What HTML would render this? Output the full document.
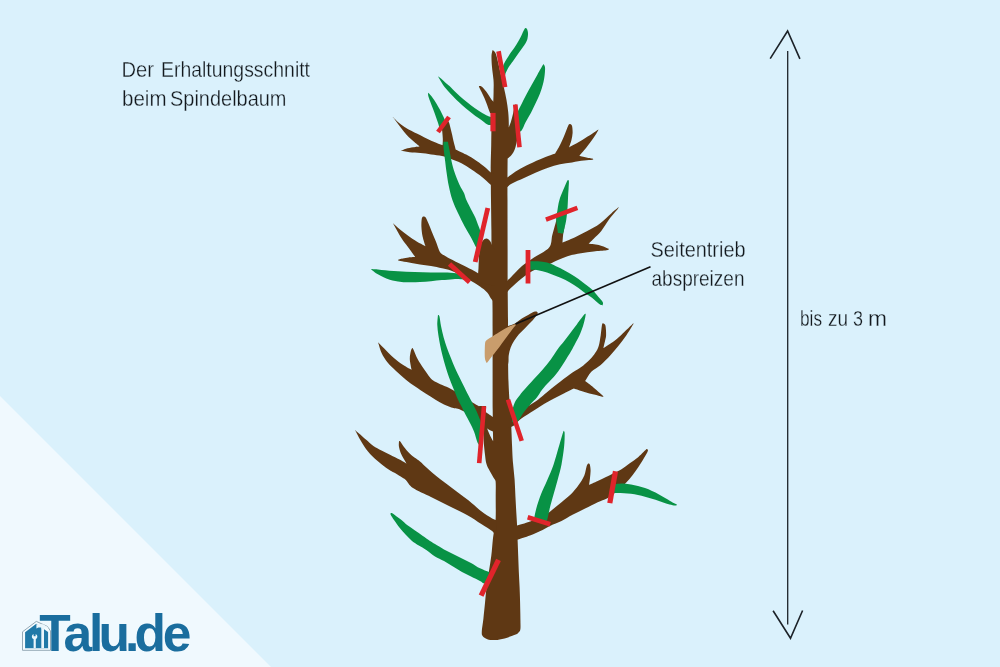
<!DOCTYPE html>
<html><head><meta charset="utf-8">
<style>
html,body{margin:0;padding:0;}
body{width:1000px;height:667px;overflow:hidden;background:#daf1fc;position:relative;font-family:"Liberation Sans",sans-serif;}
svg{position:absolute;left:0;top:0;}
</style></head>
<body>
<svg width="1000" height="667" viewBox="0 0 1000 667">
<rect width="1000" height="667" fill="#daf1fc"/>
<polygon points="0,396 271,667 0,667" fill="#f0f9fe"/>

<g stroke="#1c2228" fill="none">
<line x1="787.7" y1="51" x2="787.7" y2="624.5" stroke-width="1.3"/>
<polyline points="770.2,58.6 787.6,31 799.9,58.9" stroke-width="1.6"/>
<polyline points="773.1,610.7 790.5,638.3 802.6,610.5" stroke-width="1.6"/>
</g>
<path fill="#5f3814" d="M492.6,49.9 C492.6,49.9 494.6,51.0 495.5,53.0 C496.4,55.0 497.1,58.3 498.0,62.0 C498.9,65.7 500.0,70.7 501.0,75.0 C502.0,79.3 503.1,83.8 504.0,88.0 C504.9,92.2 505.8,96.0 506.5,100.0 C507.2,104.0 507.8,108.0 508.2,112.0 C508.6,116.0 508.8,119.3 508.8,124.0 C508.8,128.7 508.5,134.0 508.3,140.0 C508.1,146.0 507.7,150.0 507.6,160.0 C507.5,170.0 507.5,185.0 507.5,200.0 C507.5,215.0 507.6,235.0 507.6,250.0 C507.6,265.0 507.6,278.3 507.7,290.0 C507.8,301.7 507.9,310.0 508.0,320.0 C508.1,330.0 507.9,339.7 508.0,350.0 C508.1,360.3 508.2,373.7 508.5,382.0 C508.8,390.3 509.1,393.7 509.5,400.0 C509.9,406.3 510.6,412.2 511.0,420.0 C511.4,427.8 511.8,439.3 512.1,446.5 C512.4,453.7 512.6,457.5 513.0,463.0 C513.4,468.5 514.2,473.9 514.6,479.4 C515.0,484.9 515.1,490.4 515.4,495.9 C515.7,501.4 516.0,507.4 516.3,512.4 C516.6,517.4 516.9,521.0 517.1,525.6 C517.3,530.2 517.4,535.0 517.6,540.0 C517.8,545.0 518.0,550.5 518.2,555.7 C518.4,561.0 518.6,566.2 518.8,571.5 C519.0,576.8 519.4,582.0 519.6,587.2 C519.8,592.5 520.0,597.8 520.1,603.0 C520.2,608.2 520.4,614.4 520.4,618.7 C520.4,623.0 520.7,626.7 520.4,629.0 C520.1,631.3 519.3,631.6 518.5,632.5 C517.7,633.4 518.0,633.5 515.7,634.5 C513.4,635.5 508.0,637.5 504.6,638.4 C501.2,639.3 498.1,639.9 495.2,640.0 C492.3,640.1 489.4,639.9 487.3,639.2 C485.2,638.5 483.5,637.3 482.6,636.0 C481.7,634.7 481.7,634.2 481.8,631.3 C481.9,628.4 482.9,623.4 483.4,618.7 C483.9,614.0 484.5,608.2 485.0,603.0 C485.5,597.8 485.9,592.5 486.5,587.2 C487.1,582.0 488.1,576.8 488.9,571.5 C489.7,566.2 490.6,561.0 491.3,555.7 C492.0,550.5 492.3,544.6 492.8,540.0 C493.3,535.4 494.0,531.8 494.5,528.0 C495.0,524.2 495.5,522.7 495.7,517.4 C495.9,512.1 495.7,501.8 495.7,496.0 C495.7,490.2 495.9,487.0 495.7,482.7 C495.5,478.4 494.9,475.4 494.5,470.0 C494.1,464.6 493.8,456.7 493.5,450.0 C493.2,443.3 493.0,436.7 492.9,430.0 C492.8,423.3 492.8,416.7 492.7,410.0 C492.6,403.3 492.6,403.3 492.6,390.0 C492.6,376.7 492.6,345.0 492.6,330.0 C492.6,315.0 492.6,311.7 492.4,300.0 C492.2,288.3 491.8,271.7 491.6,260.0 C491.4,248.3 491.5,240.0 491.4,230.0 C491.3,220.0 491.1,208.3 491.0,200.0 C490.9,191.7 490.9,185.8 490.8,180.0 C490.8,174.2 490.6,170.8 490.7,165.0 C490.8,159.2 491.1,150.8 491.2,145.0 C491.3,139.2 491.3,134.5 491.4,130.0 C491.5,125.5 491.5,122.5 491.8,118.0 C492.1,113.5 492.9,107.7 493.2,103.0 C493.5,98.3 493.6,93.8 493.6,90.0 C493.7,86.2 493.8,83.8 493.5,80.0 C493.2,76.2 492.3,71.0 492.0,67.0 C491.7,63.0 491.4,58.9 491.5,56.0 C491.6,53.1 492.6,49.9 492.6,49.9Z"/>
<path fill="#5f3814" d="M479.0,86.2 C479.0,86.2 480.3,85.7 481.5,86.6 C482.7,87.5 484.5,89.4 486.2,91.6 C487.9,93.8 490.3,98.0 491.6,99.7 C492.9,101.4 494.0,102.0 494.0,102.0 C494.0,102.0 494.0,115.0 494.0,115.0 C494.0,115.0 491.2,113.5 490.5,113.0 C489.8,112.5 490.5,114.1 489.8,112.3 C489.1,110.5 487.4,105.4 486.2,102.4 C485.0,99.4 483.8,96.8 482.6,94.3 C481.5,91.8 479.9,88.8 479.3,87.5 C478.7,86.2 479.0,86.2 479.0,86.2Z"/>
<path fill="#5f3814" d="M505.0,128.0 C505.0,128.0 509.0,127.0 509.0,127.0 C509.0,127.0 510.3,123.8 511.0,121.5 C511.7,119.2 512.5,115.8 513.2,113.0 C513.9,110.2 515.0,104.5 515.0,104.5 C515.0,104.5 517.2,105.0 517.2,105.0 C517.2,105.0 518.3,113.5 518.5,118.0 C518.7,122.5 518.8,127.8 518.5,132.0 C518.2,136.2 517.2,140.0 516.5,143.0 C515.8,146.0 515.3,148.0 514.5,150.0 C513.7,152.0 512.7,153.6 511.5,155.0 C510.3,156.4 508.6,158.0 507.5,158.5 C506.4,159.0 505.0,158.0 505.0,158.0 C505.0,158.0 505.0,128.0 505.0,128.0Z"/>
<path fill="#5f3814" d="M393.0,117.0 C393.0,117.0 396.9,121.1 398.8,122.8 C400.7,124.5 402.7,125.9 404.5,127.1 C406.3,128.3 407.6,128.9 409.6,130.0 C411.7,131.1 414.4,132.4 416.8,133.6 C419.2,134.8 421.6,136.0 424.0,137.2 C426.4,138.4 428.8,139.7 431.2,140.8 C433.6,141.9 436.5,143.0 438.4,143.7 C440.3,144.4 442.6,145.2 442.6,145.2 C442.6,145.2 442.9,141.2 442.8,138.8 C442.7,136.4 442.4,132.9 442.2,131.0 C442.0,129.1 441.5,127.5 441.5,127.5 C441.5,127.5 447.0,120.0 447.0,120.0 C447.0,120.0 448.4,121.1 449.0,122.5 C449.6,123.9 450.1,126.4 450.6,128.5 C451.1,130.6 451.7,132.8 452.2,135.0 C452.7,137.2 453.0,139.1 453.6,141.5 C454.2,143.9 455.7,149.4 455.7,149.4 C455.7,149.4 462.7,152.7 466.2,154.6 C469.7,156.5 473.5,158.8 476.7,160.9 C479.9,163.0 482.7,165.3 485.1,167.2 C487.5,169.1 489.4,171.4 490.9,172.5 C492.4,173.6 494.0,174.0 494.0,174.0 C494.0,174.0 494.0,187.0 494.0,187.0 C494.0,187.0 492.4,186.2 490.4,184.5 C488.4,182.8 485.1,179.5 482.0,177.0 C478.9,174.5 475.0,171.8 471.5,169.5 C468.0,167.2 464.5,164.8 461.0,163.0 C457.5,161.2 453.7,160.0 450.5,158.8 C447.3,157.6 445.2,156.6 442.0,155.9 C438.8,155.2 434.8,154.9 431.2,154.4 C427.6,153.9 424.0,153.3 420.4,153.0 C416.8,152.7 412.8,152.7 409.6,152.3 C406.4,151.9 401.0,150.8 401.0,150.8 C401.0,150.8 404.0,149.3 406.0,148.7 C408.0,148.1 410.9,147.7 413.2,147.3 C415.5,146.9 419.7,146.5 419.7,146.5 C419.7,146.5 416.4,143.8 414.6,142.2 C412.8,140.6 410.7,139.0 408.9,137.2 C407.1,135.4 405.5,133.4 403.8,131.4 C402.1,129.4 400.5,127.3 398.8,125.0 C397.1,122.7 394.4,119.1 393.4,117.8 C392.4,116.5 393.0,117.0 393.0,117.0Z"/>
<path fill="#5f3814" d="M505.0,177.5 C505.0,177.5 505.4,178.4 507.2,177.4 C509.0,176.4 512.4,173.4 515.6,171.4 C518.8,169.4 522.4,167.4 526.4,165.4 C530.4,163.4 535.6,161.1 539.6,159.4 C543.6,157.7 547.8,156.2 550.4,155.2 C553.0,154.2 555.2,153.4 555.2,153.4 C555.2,153.4 558.4,148.2 560.0,145.0 C561.6,141.8 563.4,137.5 564.8,134.2 C566.2,130.9 567.4,126.9 568.4,125.2 C569.4,123.5 570.5,124.2 570.5,124.2 C570.5,124.2 571.6,124.3 572.0,125.8 C572.4,127.3 572.7,130.6 572.6,133.0 C572.5,135.4 572.0,137.8 571.4,140.2 C570.8,142.6 569.0,147.4 569.0,147.4 C569.0,147.4 574.9,144.4 578.0,142.6 C581.1,140.8 584.2,138.8 587.6,136.6 C591.0,134.4 598.4,129.4 598.4,129.4 C598.4,129.4 598.6,129.6 597.8,131.0 C597.0,132.4 595.5,135.1 593.6,137.8 C591.7,140.5 588.8,144.4 586.4,147.4 C584.0,150.4 579.2,155.8 579.2,155.8 C579.2,155.8 584.1,157.1 586.4,157.6 C588.7,158.1 593.0,158.8 593.0,158.8 C593.0,158.8 593.9,159.5 592.4,159.8 C590.9,160.1 587.4,160.2 584.0,160.6 C580.6,161.0 576.0,161.8 572.0,162.4 C568.0,163.0 564.0,163.3 560.0,164.2 C556.0,165.1 552.0,166.4 548.0,167.8 C544.0,169.2 540.0,170.9 536.0,172.6 C532.0,174.3 528.0,176.2 524.0,178.0 C520.0,179.8 514.8,181.9 512.0,183.4 C509.2,184.9 508.4,186.2 507.2,187.0 C506.0,187.8 505.0,188.0 505.0,188.0 C505.0,188.0 505.0,177.5 505.0,177.5Z"/>
<path fill="#5f3814" d="M392.9,223.2 C392.9,223.2 396.0,226.0 397.9,227.7 C399.8,229.3 402.0,231.2 404.5,233.1 C407.0,235.0 409.9,237.1 412.7,238.9 C415.4,240.7 418.9,242.6 421.0,243.8 C423.1,245.0 425.5,246.3 425.5,246.3 C425.5,246.3 423.3,239.7 422.6,236.4 C421.9,233.1 421.5,229.5 421.4,226.5 C421.3,223.5 421.5,220.2 421.8,218.6 C422.1,216.9 423.4,216.6 423.4,216.6 C423.4,216.6 424.7,216.1 425.5,217.2 C426.3,218.3 427.4,220.8 428.4,223.2 C429.4,225.6 430.5,228.4 431.7,231.4 C432.9,234.4 434.4,237.9 435.8,241.3 C437.2,244.7 438.5,249.7 439.9,252.0 C441.3,254.3 442.3,254.2 444.0,255.3 C445.7,256.4 447.0,257.2 450.0,258.8 C453.0,260.4 458.4,263.0 462.0,264.8 C465.6,266.6 468.6,268.0 471.6,269.6 C474.6,271.2 477.6,272.8 480.0,274.4 C482.4,276.0 483.7,278.1 486.0,279.0 C488.3,279.9 494.0,280.0 494.0,280.0 C494.0,280.0 494.0,302.0 494.0,302.0 C494.0,302.0 491.9,299.9 490.8,298.3 C489.7,296.7 489.0,294.4 487.2,292.4 C485.4,290.4 482.5,288.3 480.0,286.5 C477.5,284.7 475.2,283.4 472.0,281.5 C468.8,279.6 464.2,276.7 460.7,274.8 C457.2,272.9 453.9,271.5 450.8,270.4 C447.7,269.3 445.3,268.9 442.0,268.2 C438.7,267.5 434.7,266.6 431.0,266.0 C427.3,265.4 423.7,265.0 420.0,264.4 C416.3,263.8 412.3,263.1 409.0,262.5 C405.7,261.9 402.2,261.5 400.4,261.1 C398.5,260.7 397.9,259.9 397.9,259.9 C397.9,259.9 401.0,259.0 402.8,258.6 C404.6,258.2 406.5,257.7 408.6,257.4 C410.7,257.1 415.2,257.0 415.2,257.0 C415.2,257.0 412.6,253.3 411.1,251.2 C409.6,249.1 407.9,247.1 406.1,244.6 C404.3,242.1 402.0,239.0 400.4,236.4 C398.8,233.8 397.4,231.1 396.2,229.0 C395.0,226.9 393.9,225.0 393.4,224.0 C392.8,223.0 392.9,223.2 392.9,223.2Z"/>
<path fill="#5f3814" d="M477.5,282.0 C477.5,282.0 478.2,272.3 478.5,268.0 C478.8,263.7 478.7,259.7 479.0,256.0 C479.3,252.3 479.7,248.6 480.4,246.0 C481.1,243.4 482.0,241.8 483.0,240.5 C484.0,239.2 485.3,238.4 486.5,238.5 C487.7,238.6 489.0,239.8 490.0,241.0 C491.0,242.2 491.7,244.5 492.5,246.0 C493.3,247.5 495.0,250.0 495.0,250.0 C495.0,250.0 495.0,286.0 495.0,286.0 C495.0,286.0 477.5,282.0 477.5,282.0Z"/>
<path fill="#5f3814" d="M378.0,342.2 C378.0,342.2 381.4,345.6 384.0,348.2 C386.6,350.8 390.4,355.0 393.6,357.8 C396.8,360.6 400.2,363.0 403.2,365.0 C406.2,367.0 411.6,369.8 411.6,369.8 C411.6,369.8 409.9,362.2 409.8,359.0 C409.7,355.8 410.6,352.4 411.0,350.6 C411.4,348.8 412.2,348.2 412.2,348.2 C412.2,348.2 412.5,347.6 413.4,349.4 C414.3,351.2 415.9,355.8 417.6,359.0 C419.3,362.2 421.6,365.6 423.6,368.6 C425.6,371.6 428.0,375.0 429.6,377.0 C431.2,379.0 431.4,379.4 433.2,380.6 C435.0,381.8 437.7,383.0 440.3,384.2 C442.9,385.4 445.8,386.3 448.7,387.8 C451.6,389.3 454.9,391.3 458.0,393.0 C461.1,394.7 464.8,396.4 467.2,398.0 C469.6,399.6 470.4,401.0 472.5,402.5 C474.6,404.0 477.8,405.4 480.0,407.0 C482.2,408.6 483.7,410.4 486.0,412.2 C488.3,414.0 494.0,417.6 494.0,417.6 C494.0,417.6 494.0,432.0 494.0,432.0 C494.0,432.0 487.9,429.2 484.9,427.2 C481.9,425.2 478.8,422.2 476.0,420.0 C473.2,417.8 470.8,415.8 468.0,414.0 C465.2,412.2 461.9,410.3 459.5,409.3 C457.1,408.3 456.1,408.9 453.5,408.1 C450.9,407.3 447.0,405.9 444.0,404.5 C441.0,403.1 438.5,401.5 435.5,399.7 C432.5,397.9 429.4,396.0 426.0,393.8 C422.6,391.6 418.6,389.0 415.2,386.6 C411.8,384.2 408.8,382.0 405.6,379.4 C402.4,376.8 399.0,373.8 396.0,371.0 C393.0,368.2 390.0,365.6 387.6,362.6 C385.2,359.6 383.1,356.1 381.6,353.0 C380.1,349.9 379.2,345.8 378.6,344.0 C378.0,342.2 378.0,342.2 378.0,342.2Z"/>
<path fill="#5f3814" d="M479.0,406.0 C479.0,406.0 486.0,406.0 486.0,406.0 C486.0,406.0 485.3,420.2 486.5,426.0 C487.7,431.8 493.0,441.0 493.0,441.0 C493.0,441.0 499.0,443.0 499.0,443.0 C499.0,443.0 499.0,483.0 499.0,483.0 C499.0,483.0 496.3,481.4 494.8,479.4 C493.3,477.4 491.3,473.8 489.9,471.2 C488.5,468.6 487.3,466.8 486.5,464.0 C485.7,461.2 485.4,458.2 485.0,454.7 C484.6,451.2 484.1,447.1 483.8,443.0 C483.5,438.9 483.8,434.2 483.3,430.0 C482.8,425.8 481.7,422.0 481.0,418.0 C480.3,414.0 479.0,406.0 479.0,406.0Z"/>
<path fill="#5f3814" d="M536.4,311.5 C536.4,311.5 537.4,312.1 537.6,312.5 C537.8,312.9 538.2,312.6 537.4,314.0 C536.5,315.4 534.5,318.4 532.5,320.6 C530.5,322.8 528.0,325.1 525.7,327.4 C523.4,329.7 520.9,331.9 518.9,334.2 C516.9,336.5 515.4,338.7 514.0,341.0 C512.6,343.3 511.5,345.4 510.6,347.8 C509.7,350.2 509.1,353.0 508.7,355.6 C508.3,358.2 508.8,361.0 508.2,363.4 C507.6,365.8 505.0,370.0 505.0,370.0 C505.0,370.0 505.0,327.0 505.0,327.0 C505.0,327.0 506.5,326.6 508.2,326.0 C509.9,325.4 512.7,324.7 515.0,323.5 C517.3,322.3 519.5,320.1 521.8,318.6 C524.1,317.1 526.6,315.8 528.6,314.7 C530.6,313.6 532.7,312.3 534.0,311.8 C535.3,311.3 536.4,311.5 536.4,311.5Z"/>
<path fill="#5f3814" d="M505.0,281.0 C505.0,281.0 506.0,281.7 507.6,280.4 C509.2,279.1 512.3,275.6 514.7,273.2 C517.1,270.8 518.8,268.6 522.0,266.0 C525.2,263.4 529.5,260.7 534.0,257.6 C538.5,254.5 546.1,251.4 549.1,247.6 C552.1,243.8 551.2,238.9 552.3,234.9 C553.4,230.9 554.6,226.6 555.5,223.4 C556.4,220.2 557.6,216.0 557.6,216.0 C557.6,216.0 563.9,214.2 563.9,214.2 C563.9,214.2 564.5,222.6 564.4,226.0 C564.3,229.4 563.4,232.2 563.1,234.9 C562.8,237.7 562.5,242.5 562.5,242.5 C562.5,242.5 570.5,239.3 574.6,237.4 C578.7,235.5 583.1,233.3 587.3,231.0 C591.5,228.7 596.0,226.4 600.0,223.4 C604.0,220.4 608.4,215.9 611.5,213.2 C614.6,210.5 618.5,207.3 618.5,207.3 C618.5,207.3 619.5,206.8 617.9,208.8 C616.3,210.9 611.8,215.9 609.0,219.6 C606.2,223.3 603.8,227.8 601.3,231.0 C598.8,234.2 595.8,236.6 593.7,238.7 C591.6,240.8 588.6,243.8 588.6,243.8 C588.6,243.8 595.4,244.2 598.8,245.0 C602.2,245.8 609.0,248.9 609.0,248.9 C609.0,248.9 608.9,249.8 606.4,250.2 C603.9,250.6 597.9,250.9 593.7,251.4 C589.5,251.9 585.2,252.6 581.0,253.3 C576.8,254.1 572.0,254.8 568.2,255.9 C564.4,257.0 561.3,258.6 558.0,260.0 C554.7,261.4 552.9,262.7 548.6,264.5 C544.3,266.3 537.5,268.2 532.4,271.0 C527.3,273.8 522.2,278.0 518.0,281.5 C513.8,285.0 509.4,289.2 507.2,292.0 C505.0,294.8 505.0,298.0 505.0,298.0 C505.0,298.0 505.0,281.0 505.0,281.0Z"/>
<path fill="#5f3814" d="M508.0,405.0 C508.0,405.0 514.0,411.0 518.0,410.8 C522.0,410.6 528.6,405.7 532.3,403.6 C536.0,401.5 537.6,399.9 540.0,398.0 C542.4,396.1 543.8,394.9 546.7,392.5 C549.6,390.1 553.7,386.8 557.5,383.8 C561.3,380.8 565.9,377.1 569.7,374.4 C573.5,371.7 577.1,370.1 580.5,367.6 C583.9,365.1 587.4,362.0 589.9,359.5 C592.4,357.0 593.8,355.1 595.3,352.8 C596.8,350.6 597.8,348.9 598.7,346.0 C599.6,343.1 600.1,338.8 600.7,335.2 C601.3,331.6 601.6,326.3 602.1,324.4 C602.6,322.5 603.5,323.6 603.5,323.6 C603.5,323.6 605.1,323.9 605.5,325.8 C605.9,327.7 606.2,332.5 606.1,335.2 C606.0,337.9 605.2,339.9 604.8,342.0 C604.3,344.1 603.4,348.1 603.4,348.1 C603.4,348.1 610.0,344.1 612.9,342.0 C615.8,339.9 617.6,338.3 621.0,335.2 C624.4,332.1 633.1,323.6 633.1,323.6 C633.1,323.6 634.2,322.7 633.1,324.6 C632.0,326.5 628.9,331.6 626.4,335.2 C623.9,338.8 621.0,342.6 618.3,346.0 C615.6,349.4 613.1,352.4 610.2,355.5 C607.3,358.6 603.9,362.2 600.7,364.9 C597.6,367.6 593.9,369.0 591.3,371.7 C588.7,374.4 585.2,381.1 585.2,381.1 C585.2,381.1 591.0,385.4 594.0,387.9 C597.0,390.4 603.4,396.2 603.4,396.2 C603.4,396.2 603.7,397.0 602.1,396.7 C600.5,396.4 596.9,395.4 594.0,394.6 C591.1,393.8 587.9,392.9 584.5,391.9 C581.1,390.9 573.7,388.5 573.7,388.5 C573.7,388.5 567.7,391.6 564.3,393.3 C560.9,395.0 556.9,396.9 553.5,398.7 C550.1,400.5 547.8,401.8 544.0,404.1 C540.2,406.4 534.6,410.0 530.6,412.6 C526.6,415.2 522.5,417.7 519.8,419.8 C517.1,421.9 516.4,423.8 514.4,425.2 C512.4,426.6 508.0,428.0 508.0,428.0 C508.0,428.0 508.0,405.0 508.0,405.0Z"/>
<path fill="#5f3814" d="M355.0,429.9 C355.0,429.9 357.1,431.9 359.0,433.5 C360.9,435.1 363.8,437.7 366.2,439.8 C368.6,441.9 370.8,444.3 373.4,446.1 C375.9,447.9 378.6,449.1 381.5,450.6 C384.4,452.1 387.5,453.6 390.5,455.1 C393.5,456.6 396.8,458.2 399.5,459.6 C402.2,461.0 406.7,463.7 406.7,463.7 C406.7,463.7 402.6,457.0 401.3,454.2 C400.0,451.4 399.4,449.1 399.0,447.0 C398.6,444.9 398.9,442.6 399.0,441.6 C399.1,440.6 399.5,441.1 399.5,441.1 C399.5,441.1 399.8,440.8 400.5,441.8 C401.2,442.8 402.5,445.1 404.0,447.0 C405.5,448.9 407.6,451.5 409.4,453.3 C411.2,455.1 413.0,456.5 414.8,457.8 C416.6,459.1 417.9,459.7 420.0,461.4 C422.1,463.1 424.0,465.3 427.3,468.2 C430.6,471.1 435.5,475.4 440.0,479.0 C444.5,482.6 449.5,486.1 454.3,489.7 C459.1,493.3 464.2,496.9 468.7,500.5 C473.2,504.1 477.4,508.3 481.3,511.3 C485.2,514.3 489.7,517.0 492.1,518.5 C494.6,520.0 496.0,520.0 496.0,520.0 C496.0,520.0 497.0,538.0 497.0,538.0 C497.0,538.0 494.7,533.4 492.1,531.1 C489.5,528.8 485.5,526.7 481.3,524.0 C477.1,521.3 472.4,518.0 467.0,515.0 C461.6,512.0 455.0,509.0 449.0,506.0 C443.0,503.0 437.0,500.0 431.0,497.0 C425.0,494.0 417.2,490.8 413.0,488.0 C408.8,485.2 407.6,481.7 405.8,480.0 C404.0,478.3 404.0,478.8 402.2,477.6 C400.4,476.5 397.7,474.8 395.0,473.1 C392.3,471.5 389.0,469.8 386.0,467.7 C383.0,465.6 380.0,463.2 377.0,460.5 C374.0,457.8 370.7,454.8 368.0,451.5 C365.3,448.2 362.9,444.1 360.8,440.7 C358.7,437.2 356.4,432.6 355.4,430.8 C354.4,429.0 355.0,429.9 355.0,429.9Z"/>
<path fill="#5f3814" d="M516.0,526.0 C516.0,526.0 523.9,523.6 527.8,522.3 C531.7,520.9 536.4,519.1 539.4,517.9 C542.4,516.6 543.6,516.1 545.7,514.8 C547.8,513.5 549.4,512.1 552.0,510.0 C554.6,507.9 558.4,504.8 561.5,502.2 C564.6,499.6 568.0,497.2 570.9,494.3 C573.8,491.4 576.6,488.0 578.8,484.8 C581.0,481.6 583.0,478.5 584.3,475.4 C585.6,472.3 586.0,468.0 586.7,466.0 C587.4,464.0 588.3,463.6 588.3,463.6 C588.3,463.6 589.4,463.2 589.8,464.4 C590.2,465.6 590.6,468.4 590.6,470.7 C590.6,473.0 590.2,475.6 590.0,478.0 C589.8,480.4 589.1,484.8 589.1,484.8 C589.1,484.8 594.9,482.2 597.7,480.9 C600.5,479.6 603.5,478.2 606.0,477.0 C608.5,475.8 609.9,475.1 612.5,473.8 C615.1,472.5 618.7,471.0 621.5,469.3 C624.3,467.6 626.6,465.7 629.4,463.6 C632.2,461.5 635.5,459.3 638.4,456.9 C641.2,454.5 646.5,449.0 646.5,449.0 C646.5,449.0 648.3,449.2 647.9,450.7 C647.5,452.2 645.6,455.3 644.0,458.0 C642.4,460.7 640.3,464.2 638.4,467.0 C636.5,469.8 634.8,472.3 632.7,474.9 C630.6,477.5 628.5,480.3 626.0,482.8 C623.5,485.3 619.9,488.3 618.0,490.0 C616.1,491.7 616.6,491.5 614.8,492.9 C612.9,494.3 609.8,496.9 606.9,498.5 C604.0,500.1 601.3,500.5 597.7,502.2 C594.1,503.9 589.3,506.4 585.1,508.5 C580.9,510.6 576.4,512.7 572.5,514.8 C568.6,516.9 565.2,519.3 561.5,521.1 C557.8,522.9 553.6,524.3 550.5,525.8 C547.4,527.3 546.0,528.4 542.6,530.0 C539.2,531.6 534.1,533.9 530.0,535.5 C525.9,537.1 520.3,538.8 518.0,539.5 C515.7,540.2 516.0,540.0 516.0,540.0 C516.0,540.0 516.0,526.0 516.0,526.0Z"/>
<path fill="#089245" d="M525.7,28.0 C525.7,28.0 526.6,28.2 527.0,29.0 C527.4,29.8 527.9,31.4 528.0,33.0 C528.1,34.6 527.9,36.8 527.5,38.4 C527.1,40.0 526.6,41.2 525.7,42.9 C524.8,44.5 523.5,46.3 522.1,48.3 C520.8,50.2 519.1,52.5 517.6,54.6 C516.1,56.7 514.6,58.8 513.1,60.9 C511.6,63.0 509.8,65.2 508.6,67.2 C507.4,69.2 506.5,71.2 505.9,72.6 C505.3,73.9 505.5,74.1 505.0,75.3 C504.5,76.5 503.0,80.0 503.0,80.0 C503.0,80.0 502.0,70.0 502.0,70.0 C502.0,70.0 502.9,66.2 504.1,63.6 C505.4,61.0 507.9,57.2 509.5,54.6 C511.1,52.0 512.5,50.5 514.0,48.3 C515.5,46.0 517.1,43.5 518.5,41.1 C519.9,38.7 521.1,36.0 522.1,33.9 C523.1,31.8 524.2,29.5 524.8,28.5 C525.4,27.5 525.7,28.0 525.7,28.0Z"/>
<path fill="#089245" d="M543.5,64.2 C543.5,64.2 544.8,65.5 545.0,67.2 C545.2,68.9 545.0,71.6 544.7,74.4 C544.4,77.2 543.8,80.8 543.0,84.0 C542.2,87.2 541.2,90.3 540.0,93.5 C538.8,96.7 537.2,99.9 535.7,103.1 C534.2,106.3 532.7,109.5 531.0,112.7 C529.3,115.9 527.2,119.3 525.6,122.3 C524.0,125.3 523.0,128.9 521.4,130.7 C519.8,132.5 516.0,133.0 516.0,133.0 C516.0,133.0 515.7,115.0 515.7,115.0 C515.7,115.0 516.9,113.1 517.8,111.5 C518.6,109.9 519.5,108.1 520.8,105.5 C522.1,102.9 523.8,99.3 525.6,95.9 C527.4,92.5 529.6,88.7 531.6,85.1 C533.6,81.5 535.6,77.8 537.5,74.4 C539.4,71.0 542.0,66.5 543.0,64.8 C544.0,63.1 543.5,64.2 543.5,64.2Z"/>
<path fill="#089245" d="M438.0,76.3 C438.0,76.3 439.8,77.5 441.0,78.5 C442.2,79.5 443.6,81.0 445.0,82.2 C446.4,83.5 447.6,84.2 449.5,86.0 C451.4,87.8 453.8,90.5 456.2,92.7 C458.6,95.0 461.2,97.4 463.7,99.5 C466.2,101.6 468.7,103.6 471.2,105.5 C473.7,107.4 476.2,109.1 478.7,110.7 C481.2,112.3 484.3,114.2 486.2,115.2 C488.1,116.2 489.0,116.4 490.0,116.7 C491.0,117.0 492.0,117.0 492.0,117.0 C492.0,117.0 492.0,125.0 492.0,125.0 C492.0,125.0 490.8,125.1 490.0,125.0 C489.2,124.9 488.5,125.1 487.0,124.2 C485.5,123.3 483.2,121.3 481.0,119.7 C478.8,118.1 476.0,116.4 473.5,114.5 C471.0,112.6 468.5,110.6 466.0,108.5 C463.5,106.4 461.0,104.1 458.5,101.7 C456.0,99.3 453.2,96.6 451.0,94.2 C448.8,91.8 446.7,89.6 445.0,87.5 C443.3,85.4 442.2,83.4 441.0,81.5 C439.8,79.6 438.0,76.3 438.0,76.3Z"/>
<path fill="#089245" d="M428.2,92.8 C428.2,92.8 428.5,92.8 429.5,94.0 C430.5,95.2 432.4,97.2 434.0,99.7 C435.6,102.2 437.8,105.7 439.4,108.7 C441.0,111.7 442.8,115.2 443.9,117.7 C445.0,120.2 446.0,124.0 446.0,124.0 C446.0,124.0 439.5,128.0 439.5,128.0 C439.5,128.0 438.7,125.0 437.8,122.2 C436.9,119.4 435.3,114.9 434.0,111.4 C432.7,108.0 431.2,104.2 430.2,101.5 C429.2,98.8 428.5,97.0 428.2,95.5 C427.9,94.0 428.2,92.8 428.2,92.8Z"/>
<path fill="#089245" d="M443.4,141.8 C443.4,141.8 447.9,141.8 447.9,141.8 C447.9,141.8 448.8,146.1 449.5,150.0 C450.2,153.9 451.4,160.9 452.4,165.1 C453.4,169.3 454.3,171.7 455.5,175.0 C456.7,178.3 458.2,181.9 459.6,184.9 C461.0,187.9 462.9,190.5 464.0,193.0 C465.1,195.5 465.0,196.9 466.4,200.0 C467.8,203.1 470.7,208.6 472.2,211.6 C473.7,214.6 474.5,215.8 475.5,218.0 C476.5,220.2 477.2,222.7 478.0,224.7 C478.8,226.7 479.5,228.3 480.0,230.0 C480.5,231.7 481.0,232.6 481.2,234.6 C481.4,236.6 481.5,239.4 481.0,242.0 C480.5,244.6 478.0,250.0 478.0,250.0 C478.0,250.0 477.4,249.8 476.3,247.8 C475.2,245.8 473.2,241.6 471.3,238.0 C469.4,234.4 466.9,230.5 464.7,226.4 C462.5,222.3 460.2,217.6 458.1,213.2 C456.1,208.8 453.9,204.5 452.4,200.0 C450.8,195.5 449.8,190.7 448.8,186.0 C447.8,181.3 447.1,176.1 446.5,172.0 C445.9,167.9 445.6,165.3 445.2,161.6 C444.8,157.9 444.1,153.3 443.8,150.0 C443.5,146.7 443.4,141.8 443.4,141.8Z"/>
<path fill="#089245" d="M371.0,269.1 C371.0,269.1 377.0,269.5 381.5,269.9 C386.0,270.3 392.5,270.9 398.0,271.3 C403.5,271.7 409.0,271.8 414.5,272.0 C420.0,272.2 425.5,272.3 431.0,272.4 C436.5,272.5 442.9,272.4 447.5,272.6 C452.1,272.8 455.6,273.3 458.5,273.7 C461.4,274.1 465.0,275.0 465.0,275.0 C465.0,275.0 465.0,279.5 465.0,279.5 C465.0,279.5 462.7,279.2 460.7,279.2 C458.7,279.1 456.1,279.0 453.0,279.2 C449.9,279.4 445.7,279.8 442.0,280.1 C438.3,280.4 434.7,280.9 431.0,281.2 C427.3,281.5 423.7,281.8 420.0,282.0 C416.3,282.2 412.7,282.4 409.0,282.3 C405.3,282.2 401.7,282.0 398.0,281.4 C394.3,280.8 390.7,280.1 387.0,278.7 C383.3,277.3 378.7,274.8 376.0,273.2 C373.3,271.6 371.0,269.1 371.0,269.1Z"/>
<path fill="#089245" d="M529.0,261.2 C529.0,261.2 535.0,261.1 538.0,261.3 C541.0,261.5 544.0,261.8 547.0,262.6 C550.0,263.4 553.0,264.9 556.0,266.2 C559.0,267.5 562.0,269.0 565.0,270.7 C568.0,272.4 571.0,274.2 574.0,276.1 C577.0,278.1 580.0,280.1 583.0,282.4 C586.0,284.6 589.5,287.2 592.0,289.6 C594.5,292.0 596.5,294.7 598.3,296.8 C600.1,298.9 602.1,300.8 602.8,302.2 C603.5,303.6 602.4,305.4 602.4,305.4 C602.4,305.4 600.9,305.3 599.2,304.0 C597.5,302.7 594.7,299.8 592.0,297.7 C589.3,295.6 586.0,293.5 583.0,291.4 C580.0,289.3 577.0,287.1 574.0,285.1 C571.0,283.2 568.0,281.2 565.0,279.7 C562.0,278.2 559.0,277.3 556.0,276.1 C553.0,274.9 550.0,273.5 547.0,272.5 C544.0,271.5 541.0,270.8 538.0,270.3 C535.0,269.9 529.0,269.8 529.0,269.8 C529.0,269.8 529.0,261.2 529.0,261.2Z"/>
<path fill="#089245" d="M568.2,180.1 C568.2,180.1 568.8,180.1 568.9,181.4 C569.0,182.7 568.7,185.9 568.6,188.0 C568.5,190.1 568.4,191.0 568.2,194.1 C568.0,197.2 567.9,202.6 567.6,206.8 C567.3,211.1 566.8,216.0 566.3,219.6 C565.8,223.2 564.9,226.2 564.4,228.5 C563.9,230.8 563.1,233.6 563.1,233.6 C563.1,233.6 558.0,233.0 558.0,233.0 C558.0,233.0 556.2,222.0 556.1,218.3 C556.0,214.6 556.9,213.7 557.4,210.7 C557.9,207.7 558.3,203.9 559.3,200.5 C560.2,197.1 561.8,193.5 563.1,190.3 C564.4,187.1 566.0,183.1 566.9,181.4 C567.8,179.7 568.2,180.1 568.2,180.1Z"/>
<path fill="#089245" d="M438.0,315.0 C438.0,315.0 438.9,314.5 439.4,316.3 C439.9,318.1 440.3,322.5 441.0,326.0 C441.7,329.5 442.6,333.5 443.6,337.2 C444.6,340.9 445.8,344.5 447.0,348.0 C448.2,351.5 449.7,354.9 451.0,358.2 C452.3,361.5 453.6,364.9 455.0,368.0 C456.4,371.1 457.7,373.9 459.3,377.1 C460.9,380.4 462.8,384.0 464.5,387.5 C466.2,391.0 468.2,394.9 469.8,398.0 C471.4,401.1 472.8,403.6 474.0,406.0 C475.2,408.4 476.0,409.8 477.2,412.7 C478.4,415.6 480.4,420.0 481.4,423.2 C482.4,426.4 483.1,428.2 483.0,432.0 C482.9,435.8 481.0,446.0 481.0,446.0 C481.0,446.0 478.9,445.4 477.7,443.0 C476.5,440.6 475.3,434.9 474.0,431.6 C472.7,428.3 471.4,425.8 470.0,423.0 C468.6,420.2 467.0,417.6 465.6,414.8 C464.2,412.1 462.9,409.3 461.5,406.5 C460.1,403.7 458.6,401.2 457.2,398.0 C455.8,394.8 454.4,391.0 453.0,387.5 C451.6,384.0 450.1,380.6 448.9,377.1 C447.6,373.6 446.6,370.0 445.5,366.5 C444.4,363.0 443.5,359.6 442.6,356.1 C441.7,352.6 440.9,349.0 440.2,345.5 C439.5,342.0 438.9,338.6 438.4,335.2 C437.9,331.8 437.4,328.4 437.3,325.0 C437.2,321.6 438.0,315.0 438.0,315.0Z"/>
<path fill="#089245" d="M585.1,314.0 C585.1,314.0 585.9,313.3 585.7,314.6 C585.6,315.9 584.9,319.3 584.2,321.8 C583.6,324.3 582.7,327.1 581.8,329.6 C580.9,332.1 579.9,334.5 578.8,336.8 C577.7,339.1 576.5,341.1 575.2,343.4 C574.0,345.7 573.1,347.6 571.3,350.8 C569.4,354.0 566.6,358.6 564.1,362.5 C561.6,366.4 558.9,370.6 556.0,374.2 C553.1,377.8 549.4,381.4 547.0,384.1 C544.6,386.8 543.1,388.4 541.5,390.5 C539.9,392.6 539.1,394.6 537.2,397.0 C535.3,399.4 532.2,402.3 530.0,404.8 C527.8,407.3 525.7,409.7 524.0,412.0 C522.3,414.3 521.0,416.8 519.8,418.6 C518.6,420.4 517.0,423.0 517.0,423.0 C517.0,423.0 512.0,422.0 512.0,422.0 C512.0,422.0 511.9,413.5 512.5,410.0 C513.1,406.5 514.2,403.5 515.5,401.0 C516.8,398.5 518.4,397.0 520.0,394.9 C521.6,392.8 523.1,391.2 525.4,388.6 C527.6,386.1 530.6,382.8 533.5,379.6 C536.4,376.5 539.6,373.0 542.5,369.7 C545.4,366.4 548.1,363.2 550.6,359.8 C553.1,356.4 555.6,352.0 557.8,349.0 C559.9,346.0 561.5,344.5 563.5,342.0 C565.5,339.5 567.5,336.8 569.8,333.8 C572.0,330.8 574.6,327.4 577.0,324.2 C579.4,321.0 582.9,316.3 584.2,314.6 C585.6,312.9 585.1,314.0 585.1,314.0Z"/>
<path fill="#089245" d="M563.9,431.3 C563.9,431.3 564.5,431.2 564.6,432.5 C564.7,433.8 564.7,436.3 564.6,439.0 C564.5,441.7 564.4,444.4 563.9,448.6 C563.4,452.8 562.5,459.1 561.5,464.4 C560.5,469.6 558.9,475.1 557.6,480.1 C556.3,485.1 554.9,489.6 553.6,494.3 C552.3,499.0 550.8,504.3 549.7,508.5 C548.7,512.7 548.1,517.1 547.3,519.5 C546.5,521.9 545.0,523.0 545.0,523.0 C545.0,523.0 533.0,521.0 533.0,521.0 C533.0,521.0 533.4,521.6 533.9,519.5 C534.4,517.4 535.1,512.7 536.3,508.5 C537.5,504.3 539.2,499.0 541.0,494.3 C542.8,489.6 545.2,485.1 547.3,480.1 C549.4,475.1 551.8,469.6 553.6,464.4 C555.4,459.1 556.7,454.0 558.3,448.6 C559.9,443.2 562.2,435.2 563.1,432.3 C564.0,429.4 563.9,431.3 563.9,431.3Z"/>
<path fill="#089245" d="M612.0,484.5 C612.0,484.5 614.3,484.1 616.3,484.0 C618.3,483.9 621.5,483.5 624.0,483.6 C626.5,483.7 628.7,484.2 631.0,484.6 C633.3,485.0 635.7,485.4 638.0,486.0 C640.3,486.6 642.7,487.3 645.0,488.1 C647.3,488.9 649.7,489.9 652.0,491.0 C654.3,492.1 656.7,493.1 659.0,494.4 C661.3,495.7 663.7,497.2 666.0,498.6 C668.3,500.0 671.2,501.9 673.0,502.8 C674.8,503.7 675.9,503.8 676.5,504.2 C677.1,504.6 676.5,505.2 676.5,505.2 C676.5,505.2 676.3,505.6 675.1,505.5 C673.9,505.4 671.6,504.9 669.5,504.4 C667.4,503.8 664.8,503.0 662.5,502.2 C660.2,501.4 657.8,500.6 655.5,499.8 C653.2,499.1 650.8,498.4 648.5,497.7 C646.2,497.0 643.8,496.4 641.5,495.8 C639.2,495.2 636.8,494.7 634.5,494.3 C632.2,493.9 629.8,493.6 627.5,493.4 C625.2,493.2 623.1,493.1 620.5,493.0 C617.9,492.9 612.0,492.9 612.0,492.9 C612.0,492.9 612.0,484.5 612.0,484.5Z"/>
<path fill="#089245" d="M390.6,513.3 C390.6,513.3 390.9,512.6 391.8,513.1 C392.8,513.6 394.7,515.1 396.3,516.3 C397.9,517.4 399.6,518.5 401.5,520.0 C403.4,521.5 405.2,523.5 407.5,525.3 C409.8,527.0 412.5,528.8 415.0,530.5 C417.5,532.2 420.0,534.0 422.5,535.8 C425.0,537.5 427.9,539.6 430.0,541.0 C432.1,542.4 432.7,542.6 435.0,544.0 C437.3,545.4 441.0,547.8 444.0,549.4 C447.0,551.0 450.0,552.4 453.0,553.9 C456.0,555.4 459.0,556.9 462.0,558.4 C465.0,559.9 468.0,561.2 471.0,562.9 C474.0,564.5 477.0,566.8 480.0,568.3 C483.0,569.8 487.0,571.3 489.0,571.9 C491.0,572.5 492.0,572.0 492.0,572.0 C492.0,572.0 490.0,583.0 490.0,583.0 C490.0,583.0 486.2,584.0 484.5,583.6 C482.8,583.2 482.2,582.1 480.0,580.9 C477.8,579.7 474.0,577.9 471.0,576.4 C468.0,574.9 465.0,573.5 462.0,571.9 C459.0,570.2 456.0,568.3 453.0,566.5 C450.0,564.7 447.0,562.8 444.0,561.1 C441.0,559.5 437.9,558.5 435.0,556.6 C432.1,554.8 429.0,551.9 426.3,550.0 C423.6,548.1 421.2,547.0 418.8,545.5 C416.4,544.0 414.1,542.8 412.0,541.0 C409.9,539.2 408.0,537.1 406.0,535.0 C404.0,532.9 402.0,530.8 400.0,528.3 C398.0,525.8 395.5,522.2 394.0,520.0 C392.5,517.8 391.4,516.1 390.8,515.0 C390.2,513.9 390.6,513.3 390.6,513.3Z"/>
<path fill="#c99d6c" d="M515.3,324.3 C515.3,324.3 515.9,324.9 515.5,325.6 C515.1,326.3 514.4,326.6 513.0,328.4 C511.6,330.2 509.5,333.1 507.2,336.2 C504.9,339.3 501.8,343.7 499.4,346.9 C497.0,350.1 494.6,353.1 492.6,355.6 C490.6,358.2 488.6,361.1 487.5,362.2 C486.4,363.3 486.3,362.4 486.3,362.4 C486.3,362.4 485.1,360.3 484.9,358.0 C484.6,355.7 484.7,351.5 484.8,348.8 C484.9,346.1 484.9,343.5 485.3,342.0 C485.7,340.5 486.3,340.6 487.0,340.0 C487.7,339.4 487.9,339.2 489.7,338.1 C491.4,337.0 494.6,335.0 497.5,333.2 C500.4,331.4 504.2,328.9 507.2,327.4 C510.2,325.9 515.3,324.3 515.3,324.3Z"/>
<line x1="498.5" y1="51.3" x2="505.1" y2="87.1" stroke="#e0242b" stroke-width="4.7"/>
<line x1="493.0" y1="112.9" x2="493.0" y2="131.3" stroke="#e0242b" stroke-width="5.2"/>
<line x1="515.2" y1="104.5" x2="519.5" y2="147.2" stroke="#e0242b" stroke-width="4.6"/>
<line x1="449.0" y1="117.0" x2="438.0" y2="132.0" stroke="#e0242b" stroke-width="4.6"/>
<line x1="487.8" y1="208.0" x2="475.2" y2="262.0" stroke="#e0242b" stroke-width="4.8"/>
<line x1="449.5" y1="264.0" x2="469.5" y2="282.2" stroke="#e0242b" stroke-width="4.8"/>
<line x1="545.9" y1="219.6" x2="577.4" y2="207.9" stroke="#e0242b" stroke-width="4.6"/>
<line x1="528.0" y1="250.0" x2="528.0" y2="283.5" stroke="#e0242b" stroke-width="4.8"/>
<line x1="484.0" y1="406.2" x2="479.2" y2="463.1" stroke="#e0242b" stroke-width="4.6"/>
<line x1="508.0" y1="399.6" x2="521.7" y2="440.9" stroke="#e0242b" stroke-width="4.6"/>
<line x1="527.7" y1="517.2" x2="550.2" y2="524.2" stroke="#e0242b" stroke-width="4.6"/>
<line x1="615.5" y1="471.3" x2="609.8" y2="503.1" stroke="#e0242b" stroke-width="5.2"/>
<line x1="498.5" y1="559.8" x2="481.1" y2="595.7" stroke="#e0242b" stroke-width="5.2"/>
<line x1="650.5" y1="266.7" x2="515.6" y2="324.1" stroke="#111" stroke-width="1.6"/>

<g id="logo">
<path d="M22.5,650.3 L22.5,631.8 L36.3,621.4 L47.5,626.5 L50.5,631 L50.5,650.3 Z" fill="#f4fbfe" stroke="#8a9fae" stroke-width="0.9"/>
<path d="M25.1,648.2 L25.1,632.3 L36.3,623.7 L48.4,632.3 L48.4,648.2 Z" fill="#2079a8"/>
<circle cx="34.6" cy="636.6" r="2.7" fill="#eaf6fc"/>
<rect x="33.6" y="633.6" width="2" height="2.6" fill="#2079a8"/>
<rect x="33.6" y="638.5" width="2.2" height="9.7" fill="#eaf6fc"/>
<path d="M36.4,624.3 L43.2,624.2 L48.8,627.8 L44.2,627.4 L44.2,628.8 L41.2,628.8 L41.2,627.6 L38.4,627.6 L36.4,628.6 Z" fill="#eaf6fc"/>
<rect x="41.3" y="628.2" width="2.7" height="20" fill="#eaf6fc"/>
<rect x="48.2" y="631" width="1" height="17.3" fill="#eaf6fc"/>
<text x="39.3 63.6 89 98.6 125 134.5 162.8" y="650.6" font-family="Liberation Sans, sans-serif" font-weight="bold" font-size="51.5" fill="#1a6d9e">Talu.de</text>
</g>
</svg>
<svg width="1000" height="667" viewBox="0 0 1000 667" style="will-change:transform">
<g font-family="Liberation Sans, sans-serif" fill="#12181d" font-size="22.4" stroke="#daf1fc" stroke-width="0.3">
<text x="121.5" y="76.5" textLength="32.5" lengthAdjust="spacingAndGlyphs">Der</text>
<text x="161" y="76.5" textLength="149.0" lengthAdjust="spacingAndGlyphs">Erhaltungsschnitt</text>
<text x="122" y="106.2" textLength="44.5" lengthAdjust="spacingAndGlyphs">beim</text>
<text x="170" y="106.2" textLength="116.5" lengthAdjust="spacingAndGlyphs">Spindelbaum</text>
<text x="650.5" y="256.8" textLength="95.0" lengthAdjust="spacingAndGlyphs">Seitentrieb</text>
<text x="651.5" y="286.2" textLength="93.0" lengthAdjust="spacingAndGlyphs">abspreizen</text>
<text x="800.0" y="326.3" textLength="22.0" lengthAdjust="spacingAndGlyphs">bis</text>
<text x="828" y="326.3" textLength="20.0" lengthAdjust="spacingAndGlyphs">zu</text>
<text x="853.0" y="326.3" textLength="10.0" lengthAdjust="spacingAndGlyphs">3</text>
<text x="868.0" y="326.3" textLength="19.0" lengthAdjust="spacingAndGlyphs">m</text>
</g>
</svg>
</body></html>
